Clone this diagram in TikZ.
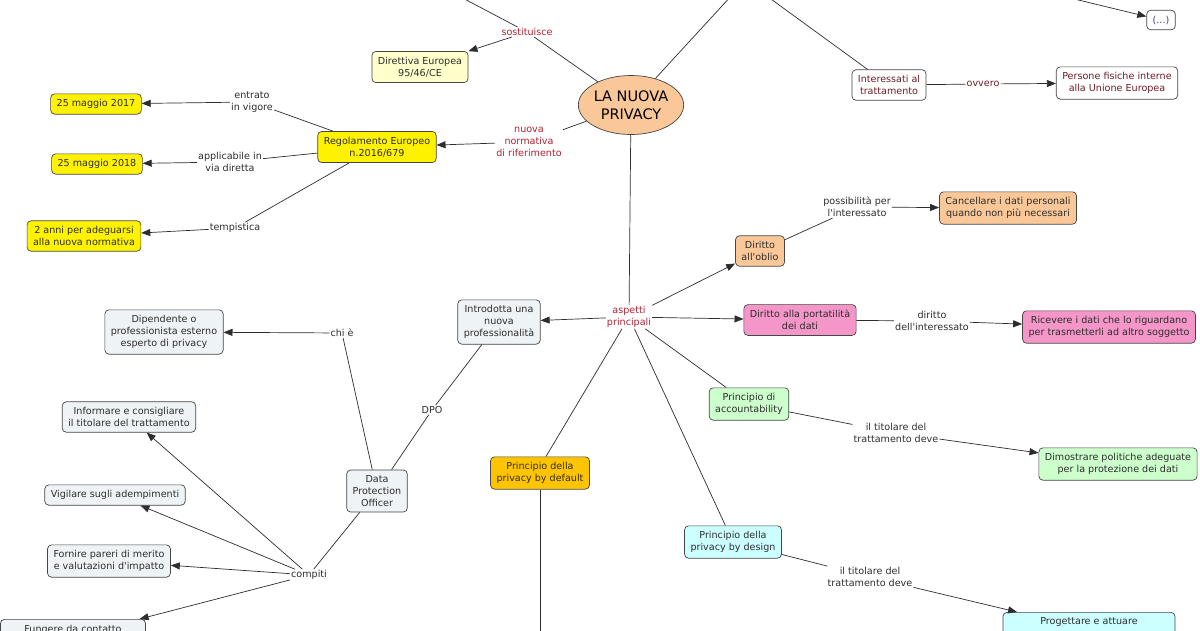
\documentclass[tikz,border=0pt]{standalone}
\usepackage{fontspec}
\setmainfont{DejaVu Sans}
\usetikzlibrary{arrows.meta,shapes.geometric}
\definecolor{peach}{RGB}{250,200,152}
\definecolor{ltyellow}{RGB}{255,255,204}
\definecolor{ltgray}{RGB}{238,243,245}
\definecolor{pinkbox}{RGB}{245,150,200}
\definecolor{ltgreen}{RGB}{204,255,204}
\definecolor{ltcyan}{RGB}{204,255,255}
\definecolor{gold}{RGB}{255,196,0}
\definecolor{linkred}{RGB}{178,34,52}
\definecolor{maroon}{RGB}{110,30,40}
\definecolor{dotblue}{RGB}{60,60,170}
\definecolor{txtgray}{RGB}{45,45,45}
\definecolor{edgegray}{RGB}{70,70,70}
\begin{document}
\begin{tikzpicture}[x=1pt,y=-1pt,
  cmbox/.style={draw=edgegray, line width=0.7pt, rounded corners=4pt, align=center, inner xsep=6pt, inner ysep=5.5pt, text=txtgray, font=\fontsize{9.6}{12}\selectfont},
  cmlink/.style={inner sep=1pt, align=center, text=txtgray, font=\fontsize{9.6}{12}\selectfont},
  cmred/.style={cmlink, text=linkred},
  cmline/.style={draw=txtgray, line width=0.7pt},
  cmarrow/.style={cmline, -{Triangle[length=9pt,width=7pt]}}]
\fill[white] (0,0) rectangle (1200,630);
\useasboundingbox (0,0) rectangle (1200,630);
\clip (0,0) rectangle (1200,630);
\node[cmbox, ellipse, fill=peach, minimum width=104pt, minimum height=59pt, inner sep=0pt, text=black, font=\fontsize{14.5}{18}\selectfont] (priv) at (631,105) {LA NUOVA\\PRIVACY};
\node[cmred] (sost) at (527,32) {sostituisce};
\node[cmbox, fill=ltyellow] (dir) at (420,67) {Direttiva Europea\\95/46/CE};
\node[cmred] (nuova) at (529,142) {nuova\\normativa\\di riferimento};
\node[cmbox, fill=yellow] (reg) at (377,147) {Regolamento Europeo\\n.2016/679};
\node[cmlink] (entr) at (252,102) {entrato\\in vigore};
\node[cmbox, fill=yellow] (m17) at (96,104) {25 maggio 2017};
\node[cmlink] (appl) at (230,162) {applicabile in\\via diretta};
\node[cmbox, fill=yellow] (m18) at (97,164) {25 maggio 2018};
\node[cmlink] (temp) at (235,228) {tempistica};
\node[cmbox, fill=yellow] (anni) at (84,236) {2 anni per adeguarsi\\alla nuova normativa};
\node[cmbox, fill=white, text=maroon] (inter) at (889,85) {Interessati al\\trattamento};
\node[cmlink, text=maroon] (ovv) at (983,84) {ovvero};
\node[cmbox, fill=white, text=maroon] (pers) at (1117,83) {Persone fisiche interne\\alla Unione Europea};
\node[cmbox, fill=white, text=dotblue] (dots) at (1161,20) {(...)};
\node[cmred] (asp) at (629,317) {aspetti\\principali};
\node[cmbox, fill=ltgray] (intro) at (499,322) {Introdotta una\\nuova\\professionalità};
\node[cmbox, fill=peach] (obl) at (760,251) {Diritto\\all\textquotesingle oblio};
\node[cmlink] (poss) at (857,207) {possibilità per\\l\textquotesingle interessato};
\node[cmbox, fill=peach] (canc) at (1008,208) {Cancellare i dati personali\\quando non più necessari};
\node[cmbox, fill=pinkbox] (port) at (800,320) {Diritto alla portatilità\\dei dati};
\node[cmlink] (dirit) at (932,321) {diritto\\dell\textquotesingle interessato};
\node[cmbox, fill=pinkbox] (ric) at (1109,327) {Ricevere i dati che lo riguardano\\per trasmetterli ad altro soggetto};
\node[cmbox, fill=ltgreen] (acc) at (749,404) {Principio di\\accountability};
\node[cmlink] (tit1) at (896,433) {il titolare del\\trattamento deve};
\node[cmbox, fill=ltgreen] (dim) at (1118,464) {Dimostrare politiche adeguate\\per la protezione dei dati};
\node[cmbox, fill=ltcyan] (des) at (733,542) {Principio della\\privacy by design};
\node[cmlink] (tit2) at (870,577) {il titolare del\\trattamento deve};
\node[cmbox, fill=ltcyan, anchor=north, minimum width=172pt] (prog) at (1089,612) {Progettare e attuare\\\strut};
\node[cmbox, fill=gold] (def) at (540,473) {Principio della\\privacy by default};
\node[cmlink] (dpo) at (432,410) {DPO};
\node[cmbox, fill=ltgray] (off) at (377,491) {Data\\Protection\\Officer};
\node[cmlink] (chi) at (342,333) {chi è};
\node[cmbox, fill=ltgray] (dip) at (164,332) {Dipendente o\\professionista esterno\\esperto di privacy};
\node[cmlink] (comp) at (309,575) {compiti};
\node[cmbox, fill=ltgray] (inf) at (129,417) {Informare e consigliare\\il titolare del trattamento};
\node[cmbox, fill=ltgray] (vig) at (115,495) {Vigilare sugli adempimenti};
\node[cmbox, fill=ltgray] (forn) at (109,561) {Fornire pareri di merito\\e valutazioni d\textquotesingle impatto};
\node[cmbox, fill=ltgray, anchor=north, minimum width=145pt] (fung) at (73,619) {Fungere da contatto\\\strut};
\coordinate (offA) at (455,-6);
\coordinate (offB) at (733,-6);
\coordinate (offC) at (764,-6);
\coordinate (offD) at (1066,-3);
\coordinate (offE) at (540,640);
\draw[cmline] (priv) -- (sost);
\draw[cmline] (sost) -- (offA);
\draw[cmarrow] (sost) -- (dir);
\draw[cmline] (priv) -- (offB);
\draw[cmline] (offC) -- (inter);
\draw[cmarrow] (offD) -- (dots);
\draw[cmline] (inter) -- (ovv);
\draw[cmarrow] (ovv) -- (pers);
\draw[cmline] (priv) -- (nuova);
\draw[cmarrow] (nuova) -- (reg);
\draw[cmline] (reg) -- (entr);
\draw[cmarrow] (entr) -- (m17);
\draw[cmline] (reg) -- (appl);
\draw[cmarrow] (appl) -- (m18);
\draw[cmline] (reg) -- (temp);
\draw[cmarrow] (temp) -- (anni);
\draw[cmline] (priv) -- (asp);
\draw[cmarrow] (asp) -- (intro);
\draw[cmarrow] (asp) -- (obl);
\draw[cmarrow] (asp) -- (port);
\draw[cmline] (asp) -- (acc);
\draw[cmline] (asp) -- (des);
\draw[cmline] (asp) -- (def.70);
\draw[cmline] (def) -- (offE);
\draw[cmline] (obl) -- (poss);
\draw[cmarrow] (poss) -- (canc);
\draw[cmline] (port) -- (dirit);
\draw[cmarrow] (dirit) -- (ric);
\draw[cmline] (acc) -- (tit1);
\draw[cmarrow] (tit1) -- (dim);
\draw[cmline] (des) -- (tit2);
\draw[cmarrow] (tit2) -- (prog);
\draw[cmline] (intro) -- (dpo);
\draw[cmline] (dpo) -- (off);
\draw[cmline] (off) -- (chi);
\draw[cmarrow] (chi) -- (dip);
\draw[cmline] (off) -- (comp);
\draw[cmarrow] (comp) -- (inf);
\draw[cmarrow] (comp) -- (vig);
\draw[cmarrow] (comp) -- (forn);
\draw[cmarrow] (comp) -- (fung);
\end{tikzpicture}
\end{document}
